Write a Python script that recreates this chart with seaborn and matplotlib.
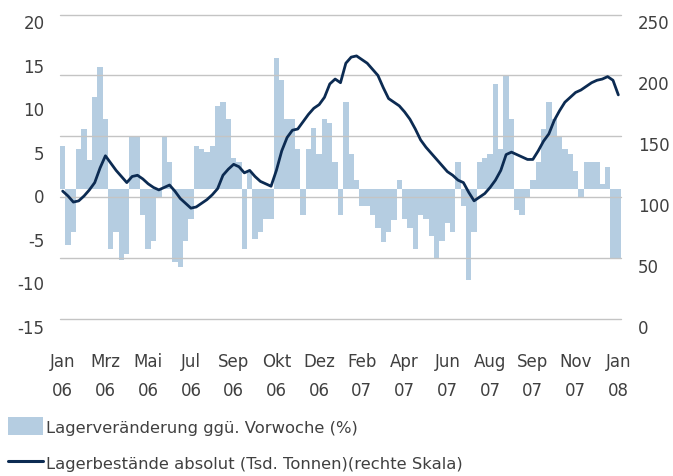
import numpy as np
import pandas as pd
import matplotlib
matplotlib.use("Agg")
import matplotlib.pyplot as plt
import matplotlib.transforms as mtransforms
from matplotlib.patches import Patch
from matplotlib.lines import Line2D
import seaborn as sns

# woechentliche Werte, Jan 06 bis Jan 08
chg = [4.9, -6.5, -5, 4.5, 6.8, 3.3, 10.5, 14, 8, -7,
       -5, -8.2, -7.5, 5.9, 5.9, -3, -7, -6, -1, 5.9,
       3, -8.5, -9, -6, -3.5, 4.9, 4.5, 4.2, 4.9, 9.5,
       10, 8, 3.5, 3, -7, 2, -5.8, -5, -3.5, -3.5,
       15, 12.5, 8, 8, 4.5, -3, 4.5, 7, 4, 8,
       7.5, 3, -3, 10, 4, 1, -2, -2, -3, -4.5,
       -6.2, -5, -3.6, 1, -3.5, -4.5, -7, -3, -3.5, -5.5,
       -8, -6, -4, -5, 3, -2, -10.5, -5, 3, 3.5,
       4, 12, 4.5, 13, 8, -2.5, -3, -1, 1, 3,
       6.8, 9.9, 8, 6, 4.5, 4, 2, -1, 3, 3,
       3, 0.5, 2.5, -8, -8]
stock = [105, 101, 96, 97, 101, 106, 112, 124, 134, 128,
         122, 117, 112, 117, 118, 115, 111, 108, 106, 108,
         110, 105, 99, 95, 91, 92, 95, 98, 102, 107,
         118, 123, 127, 125, 120, 122, 117, 113, 111, 109,
         122, 138, 149, 155, 156, 162, 168, 173, 176, 182,
         193, 197, 194, 210, 215, 216, 213, 210, 205, 200,
         190, 181, 178, 175, 170, 164, 156, 147, 141, 136,
         131, 126, 121, 118, 114, 112, 104, 97, 100, 103,
         108, 114, 122, 135, 137, 135, 133, 131, 131, 138,
         146, 152, 163, 171, 178, 182, 186, 188, 191, 194,
         196, 197, 199, 196, 184]
tick_labels = ["Jan\n06", "Mrz\n06", "Mai\n06", "Jul\n06", "Sep\n06", "Okt\n06",
               "Dez\n06", "Feb\n07", "Apr\n07", "Jun\n07", "Aug\n07", "Sep\n07",
               "Nov\n07", "Jan\n08"]

df = pd.DataFrame({"woche": np.arange(len(chg)), "chg": chg, "stock": stock})

sns.set_style("white")
plt.rcParams["font.family"] = ["DejaVu Sans"]
plt.rcParams["axes.unicode_minus"] = False
txt = "#404040"
hell = "#b5cde1"
dunkel = "#0c2b52"

fig = plt.figure(figsize=(6.73, 4.77), dpi=100)
ax = fig.add_axes([60 / 673, 1 - 320 / 477, 561 / 673, (320 - 15.5) / 477])
ax2 = ax.twinx()

sns.barplot(data=df, x="woche", y="chg", native_scale=True, width=1.0,
            color=hell, saturation=1, linewidth=0, ax=ax)
sns.lineplot(data=df, x="woche", y="stock", color=dunkel, linewidth=2.0, ax=ax2)

ax.set_xlim(-0.5, len(chg) - 0.5)
ax.set_ylim(-15, 20)
ax2.set_ylim(0, 250)
ax.set_yticks(range(-15, 21, 5))
ax2.set_yticks(range(0, 251, 50))
ax.set_xticks(range(0, 105, 8))
ax.set_xticklabels(tick_labels, linespacing=1.75)
ax.set_xlabel("")
ax.set_ylabel("")
ax2.set_ylabel("")
ax2.grid(axis="y", color="#c4c4c4", linewidth=1)
for gl in ax2.get_ygridlines():
    gl.set_clip_on(False)
ax.set_zorder(0)
ax2.set_zorder(1)
ax2.patch.set_visible(False)

for a in (ax, ax2):
    for s in a.spines.values():
        s.set_visible(False)
    a.tick_params(length=0, labelsize=12, labelcolor=txt)
ax.tick_params(axis="y", pad=11)
ax2.tick_params(axis="y", pad=12)
ax.tick_params(axis="x", pad=24)

shift = mtransforms.ScaledTranslation(0, -6.5 / 100, fig.dpi_scale_trans)
for lab in ax.get_yticklabels() + ax2.get_yticklabels():
    lab.set_transform(lab.get_transform() + shift)

handles = [Patch(facecolor=hell, edgecolor="none"),
           Line2D([0], [0], color=dunkel, linewidth=2.2)]
fig.legend(handles, ["Lagerveränderung ggü. Vorwoche (%)",
                     "Lagerbestände absolut (Tsd. Tonnen)(rechte Skala)"],
           loc="upper left", bbox_to_anchor=(0.006, 1 - 414 / 477), frameon=False,
           fontsize=11.8, labelcolor=txt, handlelength=2.15, handleheight=1.3,
           handletextpad=0.15, labelspacing=1.15, borderaxespad=0.0,
           borderpad=0.25)

fig.savefig("out.png", dpi=100)
